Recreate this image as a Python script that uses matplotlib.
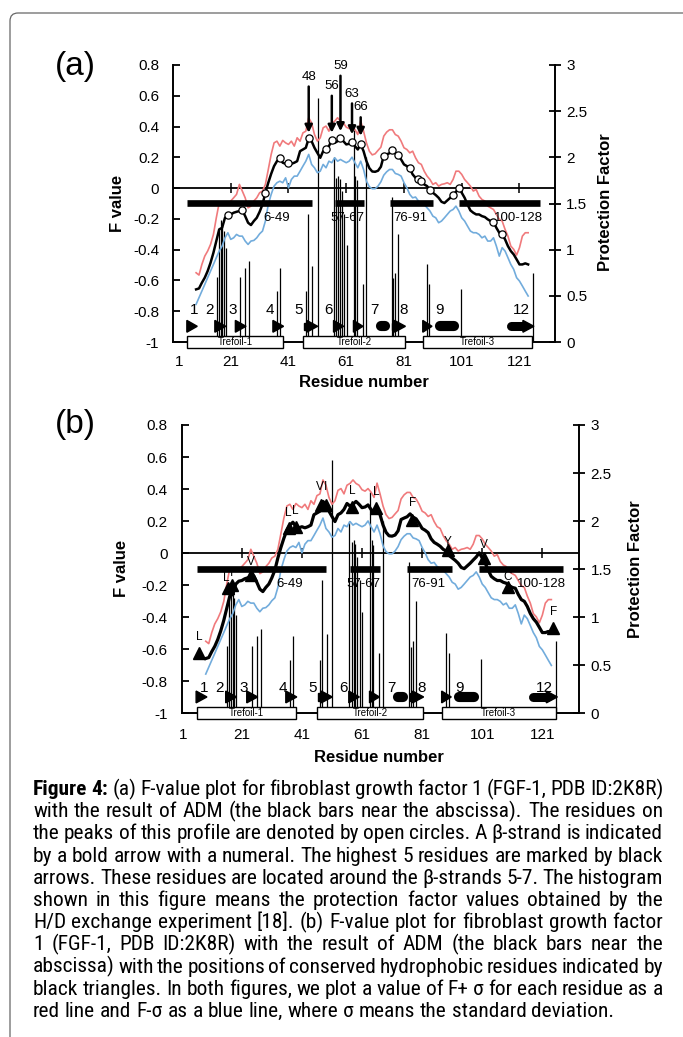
import numpy as np
import matplotlib
matplotlib.use('Agg')
import matplotlib.pyplot as plt
from matplotlib import font_manager
from matplotlib.font_manager import FontProperties
from matplotlib.patches import Polygon, Rectangle, FancyBboxPatch

names = {f.name for f in font_manager.fontManager.ttflist}
BASE = 'Liberation Sans' if 'Liberation Sans' in names else 'DejaVu Sans'
plt.rcParams['font.family'] = [BASE, 'DejaVu Sans']

# ---------------- data ----------------
res_start = 9
f_mean = [-0.658, -0.652, -0.615, -0.582, -0.539, -0.485, -0.420, -0.344, -0.268, -0.258,
          -0.193, -0.175, -0.171, -0.160, -0.154, -0.149, -0.143, -0.182, -0.225, -0.240,
          -0.214, -0.193, -0.154, -0.106, -0.030, 0.035, 0.093, 0.143, 0.175, 0.193,
          0.165, 0.158, 0.165, 0.158, 0.165, 0.175, 0.240, 0.251, 0.262, 0.323,
          0.305, 0.262, 0.229, 0.197, 0.240, 0.251, 0.273, 0.310, 0.294, 0.305,
          0.323, 0.305, 0.284, 0.288, 0.301, 0.273, 0.251, 0.284, 0.240, 0.175,
          0.130, 0.108, 0.106, 0.113, 0.139, 0.210, 0.219, 0.227, 0.245, 0.225,
          0.214, 0.186, 0.154, 0.143, 0.128, 0.089, 0.067, 0.056, 0.043, 0.024,
          0.013, -0.015, -0.030, -0.045, -0.063, -0.089, -0.097, -0.080, -0.063, -0.043,
          -0.024, 0.002, -0.030, -0.063, -0.106, -0.145, -0.160, -0.171, -0.171, -0.182,
          -0.188, -0.203, -0.214, -0.219, -0.258, -0.290, -0.301, -0.333, -0.377, -0.409,
          -0.431, -0.463, -0.496, -0.496, -0.489, -0.496]
f_plus = [-0.550, -0.565, -0.496, -0.442, -0.409, -0.366, -0.301, -0.193, -0.095, -0.106,
          -0.095, -0.102, -0.084, -0.063, -0.041, 0.024, -0.019, -0.063, -0.128, -0.117,
          -0.084, -0.063, -0.030, -0.019, 0.024, 0.121, 0.219, 0.294, 0.305, 0.273,
          0.310, 0.294, 0.284, 0.305, 0.273, 0.327, 0.305, 0.359, 0.370, 0.457,
          0.424, 0.348, 0.305, 0.327, 0.392, 0.403, 0.370, 0.424, 0.435, 0.457,
          0.435, 0.424, 0.396, 0.387, 0.403, 0.381, 0.348, 0.437, 0.370, 0.294,
          0.240, 0.216, 0.223, 0.245, 0.266, 0.338, 0.364, 0.379, 0.379, 0.348,
          0.338, 0.305, 0.262, 0.251, 0.229, 0.240, 0.197, 0.165, 0.154, 0.110,
          0.078, 0.056, 0.024, 0.035, 0.013, 0.024, 0.028, 0.035, 0.024, 0.056,
          0.110, 0.110, 0.089, 0.056, 0.035, 0.013, -0.019, -0.009, -0.052, -0.074,
          -0.084, -0.117, -0.128, -0.139, -0.171, -0.203, -0.214, -0.268, -0.312, -0.377,
          -0.398, -0.435, -0.387, -0.312, -0.290, -0.290]
f_minus = [-0.755, -0.712, -0.669, -0.626, -0.582, -0.539, -0.496, -0.452, -0.409, -0.377,
           -0.323, -0.290, -0.333, -0.323, -0.301, -0.312, -0.312, -0.344, -0.366, -0.344,
           -0.340, -0.323, -0.297, -0.279, -0.214, -0.106, -0.041, 0.013, 0.035, 0.045,
           0.035, 0.067, 0.002, 0.056, 0.078, 0.078, 0.110, 0.143, 0.175, 0.219,
           0.154, 0.132, 0.100, 0.110, 0.154, 0.132, 0.175, 0.165, 0.197, 0.175,
           0.186, 0.175, 0.165, 0.175, 0.201, 0.165, 0.132, 0.175, 0.121, 0.045,
           0.009, -0.004, -0.004, 0.013, 0.041, 0.084, 0.106, 0.121, 0.121, 0.095,
           0.089, 0.078, 0.035, 0.002, -0.041, -0.063, -0.058, -0.084, -0.095, -0.106,
           -0.128, -0.149, -0.182, -0.193, -0.225, -0.214, -0.193, -0.171, -0.149, -0.139,
           -0.117, -0.149, -0.193, -0.214, -0.247, -0.279, -0.290, -0.290, -0.301, -0.323,
           -0.312, -0.344, -0.344, -0.323, -0.377, -0.442, -0.387, -0.409, -0.452, -0.496,
           -0.528, -0.582, -0.604, -0.636, -0.669, -0.701]

peak_res = [20, 25, 33, 38, 41, 48, 54, 56, 59, 63, 66, 74, 77, 79, 83, 86, 87, 90, 98, 100, 112, 115]

top_res = [48, 56, 59, 63, 66]
top_tail = [0.66, 0.60, 0.73, 0.55, 0.46]
top_tip = [0.36, 0.36, 0.37, 0.35, 0.34]

hyd_res = [6.8, 16.3, 17.9, 24.0, 36.7, 38.9, 47.2, 48.9, 57.8, 65.7, 77.7, 89.6, 101.6, 109.7, 124.6]
hyd_f = [-0.626, -0.22, -0.20, -0.137, 0.154, 0.164, 0.30, 0.30, 0.29, 0.28, 0.206, 0.019, -0.033, -0.21, -0.47]
hyd_lab = ['L', 'L', 'I', 'V', 'L', 'L', 'V', 'I', 'L', 'L', 'F', 'Y', 'V', 'C', 'F']
hyd_lab_res = [6.8, 15.7, 17.6, 24.0, 36.5, 38.9, 47.0, 48.9, 57.8, 65.7, 77.7, 89.4, 101.6, 109.5, 124.6]
hyd_lab_f = [-0.522, -0.158, -0.127, -0.054, 0.248, 0.26, 0.41, 0.41, 0.39, 0.38, 0.31, 0.071, 0.05, -0.148, -0.366]

hist_res = [16.2, 16.9, 17.5, 18.0, 18.5, 19.2, 24.3, 26.1, 27.3, 36.9, 38.0, 46.9, 47.8, 49.2, 51.1,
            56.8, 57.6, 58.2, 58.8, 59.4, 60.2, 61.1, 63.6, 64.2, 64.7, 66.8, 67.9, 76.7, 77.3, 77.9,
            78.9, 88.9, 89.8, 100.7, 125.6]
hist_pf = [0.70, 1.21, 1.32, 1.28, 1.20, 1.02, 0.70, 0.80, 0.88, 0.55, 0.80, 0.55, 1.39, 0.82, 2.64,
           2.00, 1.78, 1.80, 1.76, 1.63, 1.39, 1.05, 2.30, 1.80, 1.75, 0.63, 2.00, 1.57, 0.69, 0.75,
           1.17, 0.84, 0.63, 0.57, 0.75]

adm_start = [6, 57, 76, 100]
adm_end = [49, 67, 91, 128]
adm_lab = ['6-49', '57-67', '76-91', '100-128']
adm_lab_res = [37.0, 61.5, 83.2, 120.7]

strand_start = [5.8, 15.4, 22.6, 35.6, 46.3, 56.6, 63.5, 77.0, 87.5, 116.5]
strand_end = [9.4, 19.3, 26.3, 39.3, 51.1, 60.1, 66.8, 81.5, 90.7, 126.0]
strand_round = [0, 0, 0, 0, 0, 0, 0, 0, 0, 1]
helix_start = [71.3, 91.7]
helix_end = [76.3, 100.0]
strand_lab = ['1', '2', '3', '4', '5', '6', '7', '8', '9', '12']
strand_lab_res = [8.3, 13.6, 21.6, 34.6, 44.5, 55.0, 70.8, 80.9, 93.3, 121.7]

tre_start = [6.0, 46.0, 87.5]
tre_end = [39.0, 81.3, 125.5]
tre_lab = ['Trefoil-1', 'Trefoil-2', 'Trefoil-3']

xtick_vals = [1, 21, 41, 61, 81, 101, 121]
ytick_vals = [0.8, 0.6, 0.4, 0.2, 0, -0.2, -0.4, -0.6, -0.8, -1]
ytick_labs = ['0.8', '0.6', '0.4', '0.2', '0', '-0.2', '-0.4', '-0.6', '-0.8', '-1']
pf_vals = [0, 0.5, 1, 1.5, 2, 2.5, 3]
pf_labs = ['0', '0.5', '1', '1.5', '2', '2.5', '3']

residues = np.arange(res_start, res_start + len(f_mean))
f_mean_arr = np.array(f_mean)

# ---------------- layout ----------------
W, H = 683, 1037
fig = plt.figure(figsize=(W / 100, H / 100), dpi=100)
XMIN, XMAX = 1, 133.3
RED = '#f07a7c'
BLUE = '#72acdc'


def make_axes(l, r, t, b):
    ax = fig.add_axes([l / W, 1 - b / H, (r - l) / W, (b - t) / H])
    ax2 = ax.twinx()
    ax.set_zorder(2)
    ax2.set_zorder(1)
    ax.patch.set_visible(False)
    ax2.patch.set_visible(False)
    ax.set_xlim(XMIN, XMAX)
    ax.set_ylim(-1, 0.8)
    ax2.set_ylim(0, 3)
    for s in ['top', 'right']:
        ax.spines[s].set_visible(False)
    for s in ['top', 'left', 'bottom']:
        ax2.spines[s].set_visible(False)
    for sp in [ax.spines['left'], ax.spines['bottom'], ax2.spines['right']]:
        sp.set_linewidth(1.4)
    ax.set_yticks(ytick_vals)
    ax.set_yticklabels(ytick_labs)
    ax.tick_params(axis='y', direction='in', length=5, width=1.3, labelsize=11, pad=10)
    ax.set_xticks([])
    ax2.set_yticks(pf_vals)
    ax2.set_yticklabels(pf_labs)
    ax2.tick_params(axis='y', direction='inout', length=8, width=1.3, labelsize=11, pad=4)
    ppr = (r - l) / (XMAX - XMIN)
    ppf = (b - t) / 1.8
    return ax, ax2, ppr, ppf


def draw_panel(l, r, t, b, panel, first_dx, lab_dy, strand_lab_f, black_lw):
    ax, ax2, ppr, ppf = make_axes(l, r, t, b)
    ax2.vlines(hist_res, 0, hist_pf, color='black', lw=0.9)
    ax.axhline(0, color='black', lw=1.3, zorder=3)
    ax.plot(xtick_vals[1:], [0] * (len(xtick_vals) - 1), ls='none', marker='|',
            ms=7, mew=1.1, color='black', zorder=3)
    for v in xtick_vals:
        dx = first_dx if v == xtick_vals[0] else 0
        ax.annotate(str(v), xy=(v, 0), xycoords=('data', 'axes fraction'),
                    xytext=(dx, -lab_dy), textcoords='offset pixels',
                    ha='center', va='center', fontsize=11, annotation_clip=False)
    ax.plot(residues, f_plus, color=RED, lw=1.2, zorder=4)
    ax.plot(residues, f_minus, color=BLUE, lw=1.2, zorder=4)
    ax.plot(residues, f_mean, color='black', lw=black_lw, zorder=5)
    for s, e, lab, lx in zip(adm_start, adm_end, adm_lab, adm_lab_res):
        ax.plot([s, e], [-0.096, -0.096], color='black', lw=4.8, solid_capstyle='butt', zorder=5)
        ax.text(lx, -0.195, lab, ha='center', va='center', fontsize=9.5, zorder=6)
    yc = -0.898
    hl = 11.0 / ppr
    hh = 5.9 / ppf
    bh = 3.6 / ppf
    for s, e, rnd in zip(strand_start, strand_end, strand_round):
        L = e - s
        h = min(hl, L)
        xh = e - h
        if L - h > 0.3:
            if rnd:
                cap = 4.5 / ppr
                ax.plot([s + cap, xh + 0.3], [yc, yc], color='black', lw=6.5,
                        solid_capstyle='round', zorder=6)
            else:
                ax.add_patch(Polygon([(s, yc - bh), (xh + 0.2, yc - bh), (xh + 0.2, yc + bh),
                                      (s, yc + bh)], closed=True, color='black', zorder=6))
        ax.add_patch(Polygon([(xh, yc - hh), (e, yc), (xh, yc + hh)], closed=True,
                             color='black', zorder=6))
    for s, e in zip(helix_start, helix_end):
        cap = 5.0 / ppr
        ax.plot([s + cap, e - cap], [yc, yc], color='black', lw=7.3,
                solid_capstyle='round', zorder=6)
    for lab, lx in zip(strand_lab, strand_lab_res):
        ax.text(lx, strand_lab_f, lab, ha='center', va='center', fontsize=11, zorder=6)
    y0 = -1 - 5.7 / ppf
    hgt = 11.7 / ppf
    for s, e, lab in zip(tre_start, tre_end, tre_lab):
        ax.add_patch(Rectangle((s, y0), e - s, hgt, facecolor='white', edgecolor='black',
                               lw=1.0, clip_on=False, zorder=7))
        ax.text((s + e) / 2, y0 + hgt / 2, lab, ha='center', va='center', fontsize=7,
                zorder=8, clip_on=False)
    if panel == 'a':
        pf = [f_mean_arr[p - res_start] for p in peak_res]
        ax.plot(peak_res, pf, ls='none', marker='o', ms=5.2, mfc='white', mec='black',
                mew=0.9, zorder=7)
        for x, tl, tp in zip(top_res, top_tail, top_tip):
            ax.annotate('', xy=(x, tp), xytext=(x, tl),
                        arrowprops=dict(arrowstyle='-|>', lw=1.8, color='black',
                                        mutation_scale=11, shrinkA=0, shrinkB=0), zorder=8)
            ax.text(x, tl + 0.025, str(x), ha='center', va='bottom', fontsize=9.5, zorder=8)
    else:
        ax.plot(hyd_res, hyd_f, ls='none', marker='^', ms=8, color='black', zorder=7)
        for x, y, lab in zip(hyd_lab_res, hyd_lab_f, hyd_lab):
            ax.text(x, y, lab, ha='center', va='center', fontsize=8.5, zorder=8)
    return ax


draw_panel(173, 555, 65, 342, 'a', 6.5, 19.7, -0.79, 1.8)
draw_panel(181.7, 579.3, 425, 713.3, 'b', 1.0, 21.7, -0.84, 2.3)

for (x, y, s) in [(118, 203, 'F value'), (121, 568, 'F value')]:
    fig.text(x / W, 1 - y / H, s, rotation=90, ha='center', va='center', fontsize=12, weight='bold')
for (x, y, s) in [(605, 202, 'Protection Factor'), (635, 569, 'Protection Factor')]:
    fig.text(x / W, 1 - y / H, s, rotation=90, ha='center', va='center', fontsize=12, weight='bold')
for (x, y) in [(364, 382), (379, 757)]:
    fig.text(x / W, 1 - y / H, 'Residue number', ha='center', va='center', fontsize=12, weight='bold')
fig.text(75 / W, 1 - 66 / H, '(a)', ha='center', va='center', fontsize=24)
fig.text(75 / W, 1 - 425 / H, '(b)', ha='center', va='center', fontsize=24)

frame = FancyBboxPatch((0.10, -1.0), 10.0, (H - 13) / 100 + 1.0,
                       boxstyle='round,pad=0,rounding_size=0.08',
                       transform=fig.dpi_scale_trans, fill=False, edgecolor='#666666', lw=0.9)
fig.add_artist(frame)

# ---------------- caption (justified) ----------------
cap_lines = [
    "Figure 4: (a) F-value plot for fibroblast growth factor 1 (FGF-1, PDB ID:2K8R)",
    "with the result of ADM (the black bars near the abscissa). The residues on",
    "the peaks of this profile are denoted by open circles. A \u03b2-strand is indicated",
    "by a bold arrow with a numeral. The highest 5 residues are marked by black",
    "arrows. These residues are located around the \u03b2-strands 5-7. The histogram",
    "shown in this figure means the protection factor values obtained by the",
    "H/D exchange experiment [18]. (b) F-value plot for fibroblast growth factor",
    "1 (FGF-1, PDB ID:2K8R) with the result of ADM (the black bars near the",
    "abscissa) with the positions of conserved hydrophobic residues indicated by",
    "black triangles. In both figures, we plot a value of F+ \u03c3 for each residue as a",
    "red line and F-\u03c3 as a blue line, where \u03c3 means the standard deviation.",
]


def find_condensed():
    pref = ['Liberation Sans Narrow', 'Arimo', 'Liberation Sans', 'Roboto', 'Open Sans',
            'Noto Sans', 'Lato', 'Inter', 'DejaVu Sans']
    cands = []
    for f in font_manager.fontManager.ttflist:
        nm = f.name
        if 'Mono' in nm or 'Serif' in nm or 'CJK' in nm or 'Display' in nm:
            continue
        cond = ('Narrow' in nm or 'Condensed' in nm or
                str(f.stretch) in ('condensed', 'semi-condensed', 'extra-condensed'))
        if not cond or f.style != 'normal':
            continue
        cands.append(f)
    if not cands:
        return None, None

    def rank(f):
        for i, p in enumerate(pref):
            if f.name.startswith(p):
                return i
        return len(pref)

    cands.sort(key=rank)
    best = cands[0]
    reg = [f for f in cands if f.name == best.name and f.stretch == best.stretch and
           f.weight in (400, 'normal', 'regular', 'book')]
    bold = [f for f in cands if f.name == best.name and f.stretch == best.stretch and
            f.weight in (700, 'bold')]
    regf = reg[0].fname if reg else best.fname
    boldf = bold[0].fname if bold else None
    return regf, boldf


reg_file, bold_file = find_condensed()
rend = fig.canvas.get_renderer()


def props(size, weight):
    if reg_file is not None:
        if weight == 'bold' and bold_file is not None:
            return FontProperties(fname=bold_file, size=size)
        if weight == 'bold':
            return FontProperties(fname=reg_file, size=size, weight='bold')
        return FontProperties(fname=reg_file, size=size)
    return FontProperties(family=[BASE, 'DejaVu Sans'], size=size, weight=weight)


def words_w(line, size):
    tot = 0.0
    for w in line.split(' '):
        t = fig.text(0, 0, w, fontproperties=props(size, 'normal'))
        tot += t.get_window_extent(rend).width
        t.remove()
    return tot


def text_w(s, size):
    t = fig.text(0, 0, s, fontproperties=props(size, 'normal'))
    w = t.get_window_extent(rend).width
    t.remove()
    return w


CAP_X0, CAP_X1 = 33, 663
CAP_Y0, CAP_DY = 795, 22.2
ref_line = cap_lines[1]
target = (CAP_X1 - CAP_X0) - 5.5 * (len(ref_line.split(' ')) - 1)
csize = 12.0 * target / words_w(ref_line, 12.0)
space = text_w('a a', csize) - text_w('aa', csize)
for i, line in enumerate(cap_lines):
    y = 1 - (CAP_Y0 + i * CAP_DY) / H
    words = line.split(' ')
    weights = ['normal'] * len(words)
    if i == 0:
        weights[0] = weights[1] = 'bold'
    texts = [fig.text(0, y, w, fontproperties=props(csize, wt), va='baseline', ha='left')
             for w, wt in zip(words, weights)]
    widths = [t.get_window_extent(rend).width for t in texts]
    if i < len(cap_lines) - 1:
        gap = max(space * 0.5, (CAP_X1 - CAP_X0 - sum(widths)) / (len(words) - 1))
    else:
        gap = space
    x = CAP_X0
    for t, w in zip(texts, widths):
        t.set_x(x / W)
        x += w + gap

fig.savefig('out.png', dpi=100)
